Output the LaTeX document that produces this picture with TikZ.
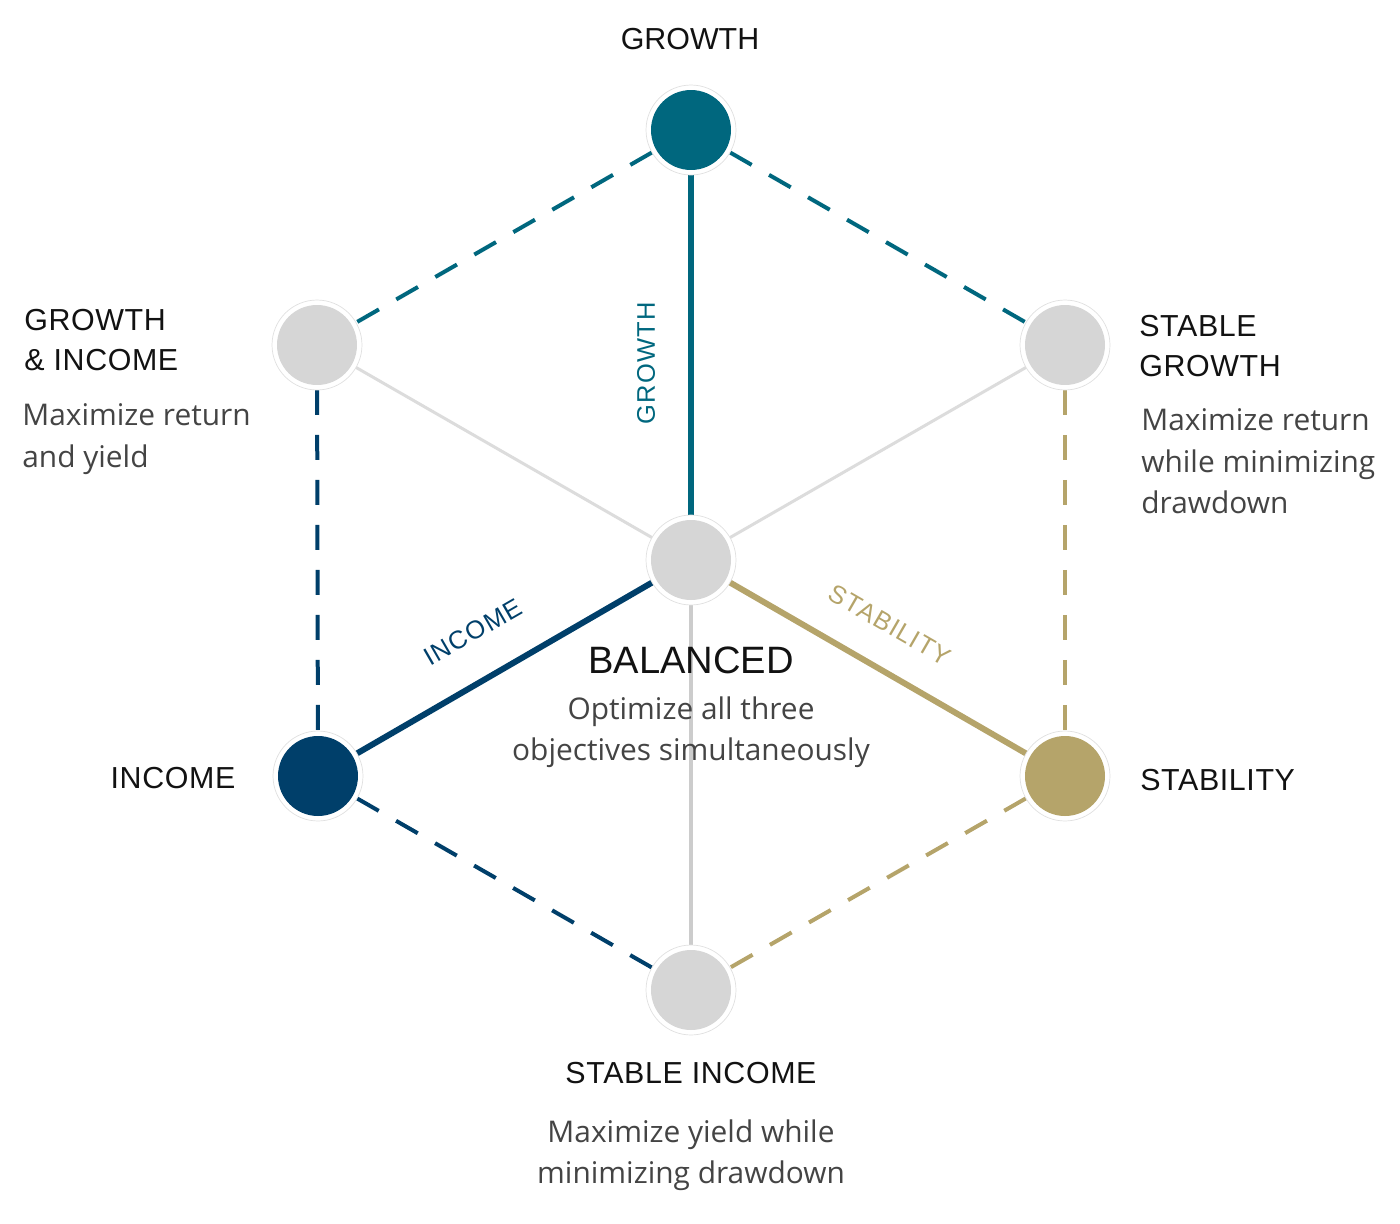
\documentclass[tikz,border=0pt]{standalone}
\usepackage{fontspec}
\setmainfont[LetterSpace=2]{Liberation Sans}
\newfontfamily\plainfont{Liberation Sans}
\newfontfamily\bodyfont{Open Sans}
\newfontfamily\tagfont[LetterSpace=5]{Liberation Sans}
\usetikzlibrary{positioning}
\pgfdeclarelayer{background}
\pgfsetlayers{background,main}

\definecolor{growthteal}{RGB}{0,103,126}
\definecolor{incomenavy}{RGB}{0,63,106}
\definecolor{stabgold}{RGB}{181,164,106}
\definecolor{hubgray}{RGB}{214,214,214}
\definecolor{spokegray}{RGB}{220,220,220}
\definecolor{bodygray}{RGB}{68,68,68}

\begin{document}
\begin{tikzpicture}[x=0.02cm, y=-0.02cm,
    hub/.style={circle, minimum size=1.8cm, inner sep=0pt, draw=black!12, line width=0.4pt, fill=white,
      path picture={\fill[#1] (path picture bounding box.center) circle (0.8cm);}},
    head/.style={inner sep=0pt, text=black!93, font=\fontsize{17.3}{23}\selectfont, align=left},
    body/.style={inner sep=0pt, text=bodygray, font=\bodyfont\fontsize{17}{23.8}\selectfont},
    tag/.style={inner sep=0pt, font=\tagfont\fontsize{14.5}{16}\selectfont},
    axis/.style={line width=0.12cm},
    spoke/.style={line width=0.06cm, spokegray},
    link/.style={line width=0.08cm, dash pattern=on 0.5cm off 0.4cm}]
    \useasboundingbox (0,0) rectangle (1400,1224);

    % Circles
    \node[hub=growthteal] (gro) at (691,130) {};
    \node[hub=hubgray] (gai) at (317,345) {};
    \node[hub=hubgray] (sgr) at (1065,345) {};
    \node[hub=hubgray] (bal) at (691,560) {};
    \node[hub=incomenavy] (inc) at (318,776) {};
    \node[hub=stabgold] (sta) at (1065,776) {};
    \node[hub=hubgray] (sin) at (691,990) {};

    % Lines
    \begin{pgfonlayer}{background}
      \draw[link, growthteal] (gro.center) -- (gai.center);
      \draw[link, growthteal] (gro.center) -- (sgr.center);
      \draw[link, incomenavy] (gai.center) -- (inc.center);
      \draw[link, incomenavy] (inc.center) -- (sin.center);
      \draw[link, stabgold] (sgr.center) -- (sta.center);
      \draw[link, stabgold] (sta.center) -- (sin.center);
      \draw[spoke] (gai.center) -- (bal.center);
      \draw[spoke] (sgr.center) -- (bal.center);
      \draw[spoke, line width=0.08cm, black!20] (bal.center) -- (sin.center);
      \draw[axis, growthteal] (gro.center) -- (bal.center);
      \draw[axis, incomenavy] (inc.center) -- (bal.center);
      \draw[axis, stabgold] (sta.center) -- (bal.center);
    \end{pgfonlayer}

    % Line labels
    \node[tag, text=growthteal, rotate=90] (tgro) at (646,363) {GROWTH};
    \node[tag, text=incomenavy, rotate=30] (tinc) at (473,632) {INCOME};
    \node[tag, text=stabgold, rotate=-30] (tsta) at (890,625) {STABILITY};

    % Texts
    \node[head, font=\plainfont\fontsize{17.3}{23}\selectfont] (lgro) at (690,39) {GROWTH};
    \node[head, anchor=north west] (lgai) at (24,309) {GROWTH\\\& INCOME};
    \node[body, anchor=north west, align=left] (dgai) at (22,403) {Maximize return\\and yield};
    \node[head, anchor=north west] (lsgr) at (1139,315) {STABLE\\GROWTH};
    \node[body, anchor=north west, align=left] (dsgr) at (1141,408) {Maximize return\\while minimizing\\drawdown};
    \node[head] (linc) at (173,778) {INCOME};
    \node[head, anchor=west] (lsta) at (1140,780) {STABILITY};
    \node[head, font=\plainfont\fontsize{21.7}{26}\selectfont] (lbal) at (691,660) {BALANCED};
    \node[body, anchor=north, align=center] (dbal) at (691,696) {Optimize all three\\objectives simultaneously};
    \node[head] (lsin) at (691,1073) {STABLE INCOME};
    \node[body, anchor=north, align=center] (dsin) at (691,1119) {Maximize yield while\\minimizing drawdown};
\end{tikzpicture}
\end{document}
